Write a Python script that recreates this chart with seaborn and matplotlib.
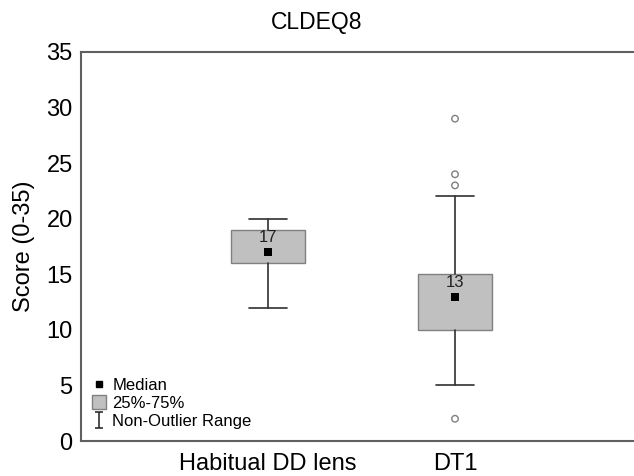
import numpy as np
import pandas as pd
import matplotlib
matplotlib.use("Agg")
import matplotlib.pyplot as plt
import seaborn as sns
from matplotlib.lines import Line2D
from matplotlib.patches import Patch
from matplotlib.path import Path

#%% DATA
groups = ["Habitual DD lens", "DT1"]
medians = [17, 13]
q1 = [16, 10]
q3 = [19, 15]
whisker_lo = [12, 5]
whisker_hi = [20, 22]
outlier_group = ["DT1", "DT1", "DT1", "DT1"]
outlier_values = [2, 23, 24, 29]
y_ticks = [0, 5, 10, 15, 20, 25, 30, 35]

#%% STYLE
sns.set_style("white")
plt.rcParams["font.family"] = ["Liberation Sans", "DejaVu Sans"]
plt.rcParams["text.color"] = "black"
plt.rcParams["axes.labelcolor"] = "black"

box_face = "#c0c0c0"
box_edge = "#808080"
line_col = "#303030"
spine_col = "#606060"

fig = plt.figure(figsize=(6.34, 4.76), dpi=100)
ax = fig.add_axes([81 / 634, 35 / 476, 561 / 634, 389 / 476])

pos = {g: i for i, g in enumerate(groups)}

# boxes and whiskers from summary stats
stats = []
for i, g in enumerate(groups):
    stats.append(dict(label=g, med=medians[i], q1=q1[i], q3=q3[i],
                      whislo=whisker_lo[i], whishi=whisker_hi[i], fliers=[]))
ax.bxp(stats, positions=[0, 1], widths=0.4, capwidths=0.2, patch_artist=True,
       showfliers=False,
       boxprops=dict(facecolor=box_face, edgecolor=box_edge, linewidth=1.0),
       whiskerprops=dict(color=line_col, linewidth=1.2),
       capprops=dict(color=line_col, linewidth=1.2),
       medianprops=dict(linewidth=0))

# medians
med_df = pd.DataFrame({"x": [pos[g] for g in groups], "y": medians})
sns.scatterplot(data=med_df, x="x", y="y", marker="s", color="black",
                s=26, edgecolor="black", linewidth=0, ax=ax, zorder=5)
for i, g in enumerate(groups):
    ax.annotate(str(medians[i]), (pos[g], medians[i]), xytext=(0, 5),
                textcoords="offset points", ha="center", va="bottom",
                fontsize=12, color="#202020", zorder=6)

# outliers
out_df = pd.DataFrame({"x": [pos[g] for g in outlier_group], "y": outlier_values})
sns.scatterplot(data=out_df, x="x", y="y", marker="o", facecolor="none",
                edgecolor="#808080", linewidth=1.0, s=22, ax=ax, zorder=5)

#%% AXES
ax.set_xlim(-1, 2)
ax.set_ylim(0, 35)
ax.set_xticks([0, 1])
ax.set_xticklabels(groups)
ax.set_yticks(y_ticks)
ax.set_xlabel("")
ax.set_ylabel("Score (0-35)", fontsize=17, labelpad=8)
ax.tick_params(axis="both", direction="in", length=3, width=1, colors=spine_col,
               labelcolor="black", labelsize=17)
ax.tick_params(axis="y", pad=6)
ax.tick_params(axis="x", pad=9)
for side in ["left", "bottom", "top"]:
    ax.spines[side].set_color(spine_col)
    ax.spines[side].set_linewidth(1.5)
ax.spines["right"].set_visible(False)

fig.text(0.5, 1 - 22 / 476, "CLDEQ8", ha="center", va="center", fontsize=16.5,
         color="black")

#%% LEGEND
ibar = Path([(-0.5, -1), (0.5, -1), (0, -1), (0, 1), (-0.5, 1), (0.5, 1)],
            [Path.MOVETO, Path.LINETO, Path.MOVETO, Path.LINETO, Path.MOVETO, Path.LINETO])
handles = [
    Line2D([], [], marker="s", color="black", linestyle="none", markersize=4.5),
    Patch(facecolor=box_face, edgecolor=box_edge),
    Line2D([], [], marker=ibar, color=line_col, linestyle="none", markersize=11,
           markeredgewidth=1.2),
]
labels = ["Median", "25%-75%", "Non-Outlier Range"]
leg = ax.legend(handles, labels, loc="lower left", bbox_to_anchor=(0.02, 0.03),
                frameon=False, fontsize=12, handlelength=0.8, handleheight=0.9,
                handletextpad=0.4, labelspacing=0.15, borderpad=0, borderaxespad=0)
for t in leg.get_texts():
    t.set_color("black")

fig.savefig("out.png", dpi=100)
